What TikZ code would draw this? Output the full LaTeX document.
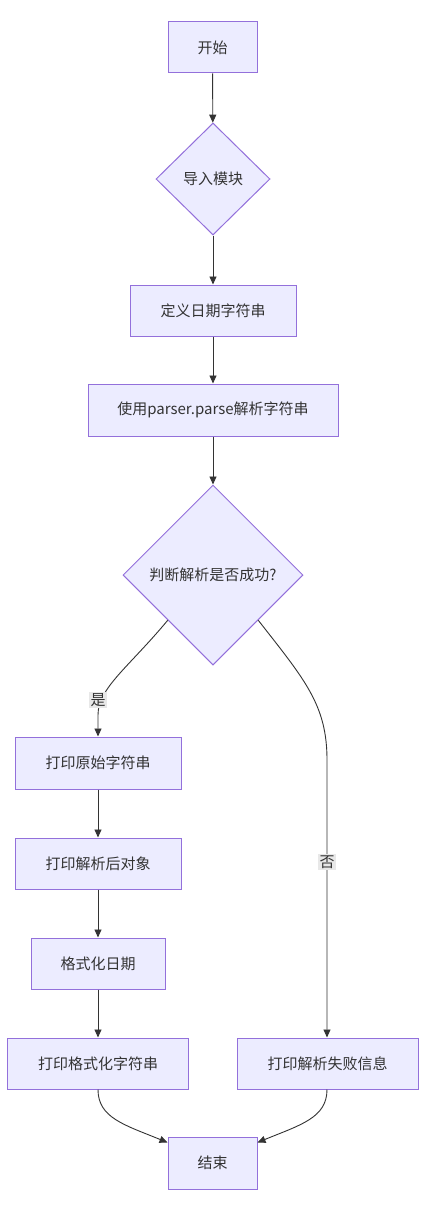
\documentclass[tikz,border=0pt]{standalone}
\usepackage{fontspec}
\setmainfont{Noto Sans CJK SC}
\usetikzlibrary{shapes.geometric,arrows.meta,calc}
\definecolor{nfill}{HTML}{ECECFF}
\definecolor{nstroke}{HTML}{9370DB}
\definecolor{ink}{HTML}{333333}
\definecolor{lblbg}{HTML}{E8E8E8}
\begin{document}
\begin{tikzpicture}[x=1pt,y=-1pt,
  font=\fontsize{15pt}{18pt}\selectfont,
  box/.style={draw=nstroke,fill=nfill,line width=1pt,text=ink,inner sep=0pt,rectangle,minimum height=51pt},
  dia/.style={draw=nstroke,fill=nfill,line width=1pt,text=ink,inner sep=0pt,diamond,aspect=1},
  arr/.style={draw=ink,line width=0.9pt,-{Triangle[length=8pt,width=7pt]}},
  lbl/.style={fill=lblbg,text=ink,inner sep=1.5pt}]
\useasboundingbox[fill=white] (0,0) rectangle (426,1212);
\node[box,minimum width=89pt] (start) at (212.5,47.5) {开始};
\node[dia,minimum width=114pt,minimum height=112pt] (imp) at (213,179) {导入模块};
\node[box,minimum width=166pt] (def) at (213,310.5) {定义日期字符串};
\node[box,minimum width=250pt,minimum height=52pt] (use) at (213,410) {使用parser.parse解析字符串};
\node[dia,minimum width=180pt,minimum height=180pt] (q) at (213,575) {判断解析是否成功?};
\node[box,minimum width=166pt,minimum height=52pt] (p1) at (98,763) {打印原始字符串};
\node[box,minimum width=166pt] (p2) at (98,863.5) {打印解析后对象};
\node[box,minimum width=134pt] (p3) at (98,963.5) {格式化日期};
\node[box,minimum width=181pt] (p4) at (98,1063.5) {打印格式化字符串};
\node[box,minimum width=181pt] (pf) at (327.5,1063.5) {打印解析失败信息};
\node[box,minimum width=89pt,minimum height=52pt] (e) at (212.5,1163) {结束};
\draw[arr] (start) -- (imp);
\draw[arr] (imp) -- (def);
\draw[arr] (def) -- (use);
\draw[arr] (use) -- (q);
\draw[arr] (q.south west) .. controls (128,668) and (98,688) .. (98,715) -- (p1.north);
\draw[arr] (q.south east) .. controls (305,680) and (327,705) .. (327,760) -- (pf.north -| 327,0);
\draw[arr] (p1) -- (p2);
\draw[arr] (p2) -- (p3);
\draw[arr] (p3) -- (p4);
\draw[arr] (p4.south) .. controls (98,1118) and (125,1125) .. ([yshift=-6pt]e.north west);
\draw[arr] (pf.south -| 327,0) .. controls (327,1118) and (300,1125) .. ([yshift=-6pt]e.north east);
\node[lbl] (ly) at (98,700) {是};
\node[lbl] (ln) at (327,862) {否};
\end{tikzpicture}
\end{document}
